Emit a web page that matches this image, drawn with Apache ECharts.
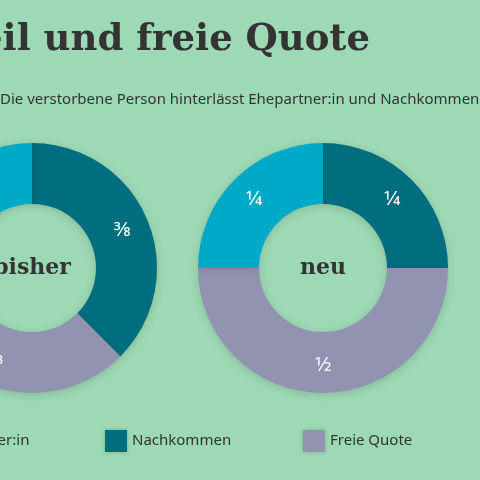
<!DOCTYPE html><html><head><meta charset="utf-8"><script src="https://cdn.jsdelivr.net/npm/echarts@6/dist/echarts.min.js"></script>
<style>html,body{margin:0;padding:0;background:#9dd9b4}#c{width:480px;height:480px}</style></head><body><div id="c"></div><script>
const categories=['Nachkommen','Freie Quote','Ehepartner:in'];
const bisherValues=[3,3,2];
const bisherLabels=['3⁄8','3⁄8','1⁄4'];
const neuValues=[1,2,1];
const neuLabels=['1⁄4','1⁄2','1⁄4'];
const colors={'Nachkommen':'#006e7f','Freie Quote':'#9193b0','Ehepartner:in':'#00a9c8'};
function mk(vals,labs){return categories.map((c,i)=>({name:c,value:vals[i],label:{formatter:labs[i]},itemStyle:{color:colors[c]}}));}
const ch=echarts.init(document.getElementById('c'));
const lbl={show:true,position:'inside',color:'#fff',fontSize:20,fontFamily:'Noto Sans'};
const pieBase={type:'pie',radius:[64,125],startAngle:90,clockwise:true,center:[32,268],label:lbl,labelLine:{show:false},silent:true,
 itemStyle:{shadowBlur:8,shadowColor:'rgba(0,0,0,0.15)',shadowOffsetY:2}};
const legStyle={itemWidth:22,itemHeight:22,icon:'rect',top:425,textStyle:{fontSize:15,color:'#333',fontFamily:'Noto Sans'},itemStyle:{shadowBlur:4,shadowColor:'rgba(0,0,0,0.2)'}};
ch.setOption({backgroundColor:'#9dd9b4',animation:false,
 legend:[Object.assign({data:['Ehepartner:in'],left:-99},legStyle),Object.assign({data:['Nachkommen'],left:100},legStyle),Object.assign({data:['Freie Quote'],left:298},legStyle)],
 graphic:[
  {type:'text',right:110,top:22,style:{text:'Pflichtteil und freie Quote',font:'bold 37px "DejaVu Serif"',fill:'#333',textAlign:'right'}},
  {type:'text',left:0,top:92,style:{text:'Die verstorbene Person hinterlässt Ehepartner:in und Nachkommen',font:'15px "Noto Sans"',fill:'#333'},x:0},
  {type:'text',x:32,y:268,style:{text:'bisher',font:'bold 22px "DejaVu Serif"',fill:'#333',align:'center',verticalAlign:'middle'}},
  {type:'text',x:323,y:268,style:{text:'neu',font:'bold 22px "DejaVu Serif"',fill:'#333',align:'center',verticalAlign:'middle'}}
 ],
 series:[Object.assign({},pieBase,{data:mk(bisherValues,bisherLabels)}),Object.assign({},pieBase,{center:[323,268],data:mk(neuValues,neuLabels)})]
});
</script></body></html>
